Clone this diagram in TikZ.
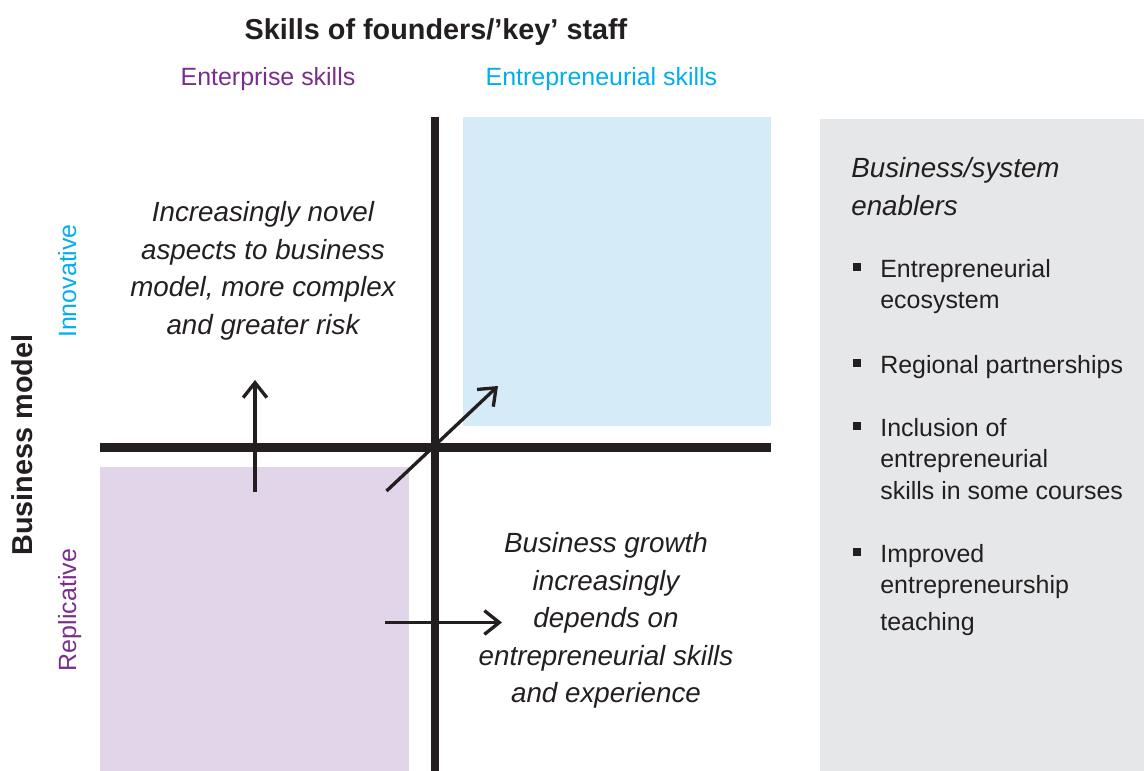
\documentclass[tikz,border=0pt]{standalone}
\usepackage{fontspec}
\setmainfont{Liberation Sans}
\usetikzlibrary{arrows.meta}
\definecolor{ink}{HTML}{231F20}
\definecolor{entblue}{HTML}{00AEEF}
\definecolor{entpurple}{HTML}{7B2D8E}
\definecolor{bluequad}{HTML}{D5EBF8}
\definecolor{purplequad}{HTML}{E1D6E9}
\definecolor{panelgrey}{HTML}{E6E7E8}

\begin{document}
\begin{tikzpicture}[x=0.02cm, y=-0.02cm,
	axis/.style={line width=4.8pt, ink},
	growth/.style={line width=1.9pt, ink, -{Straight Barb[length=8.5pt, width=13.5pt]}},
	heading/.style={font=\fontsize{16.4}{20}\selectfont\bfseries, ink, inner sep=0},
	skilltype/.style={font=\fontsize{14.2}{17}\selectfont, inner sep=0},
	note/.style={font=\fontsize{15.8}{21.4}\selectfont\itshape, ink, align=center, inner sep=0},
	enabler/.style={font=\fontsize{14.2}{17.9}\selectfont, ink, align=left, inner sep=0, anchor=north west},
	square/.style={fill=ink, inner sep=0, minimum size=4.1pt}]
	\useasboundingbox (0,0) rectangle (1144,771);
	\fill[bluequad] (463,117) rectangle (771,426);
	\fill[purplequad] (100,467) rectangle (409,771);
	\fill[panelgrey] (820,119) rectangle (1144,771);
	\draw[axis] (435,117) -- (435,771);
	\draw[axis] (100,447.5) -- (771,447.5);

	\coordinate (novelA) at (255,492);
	\coordinate (novelB) at (255,380);
	\coordinate (bothA) at (386.5,491);
	\coordinate (bothB) at (498,386);
	\coordinate (skillA) at (385,622.5);
	\coordinate (skillB) at (502,622.5);
	\draw[growth] (novelA) -- (novelB);
	\draw[growth] (bothA) -- (bothB);
	\draw[growth] (skillA) -- (skillB);

	\node[heading, anchor=base] (founders) at (436,39.5) {Skills of founders/’key’ staff};
	\node[skilltype, entpurple, anchor=base] (enterprise) at (268,85) {Enterprise skills};
	\node[skilltype, entblue, anchor=base] (entrepreneurial) at (601.5,85) {Entrepreneurial skills};
	\node[heading, rotate=90, anchor=base] (model) at (32,445) {Business model};
	\node[skilltype, entblue, rotate=90, anchor=base] (innovative) at (76,281) {Innovative};
	\node[skilltype, entpurple, rotate=90, anchor=base] (replicative) at (76,610) {Replicative};

	\node[note, anchor=north] (novel) at (263,201) {Increasingly novel\\aspects to business\\model, more complex\\and greater risk};
	\node[note, anchor=north] (growth) at (606,532) {Business growth\\increasingly\\depends on\\entrepreneurial skills\\and experience};

	\node[note, align=left, anchor=north west] (enablers) at (851,157) {Business/system\\enablers};
	\node[enabler] (ecosystem) at (880,259) {Entrepreneurial\\ecosystem};
	\node[enabler] (partnerships) at (880,355) {Regional partnerships};
	\node[enabler] (inclusion) at (880,418) {Inclusion of\\entrepreneurial\\skills in some courses};
	\node[enabler] (teaching) at (880,544) {Improved\\entrepreneurship\\[3pt]teaching};
	\foreach \item/\y in {ecosystem/267, partnerships/363, inclusion/426, teaching/552}
		\node[square] (bullet-\item) at (857,\y) {};
\end{tikzpicture}
\end{document}
